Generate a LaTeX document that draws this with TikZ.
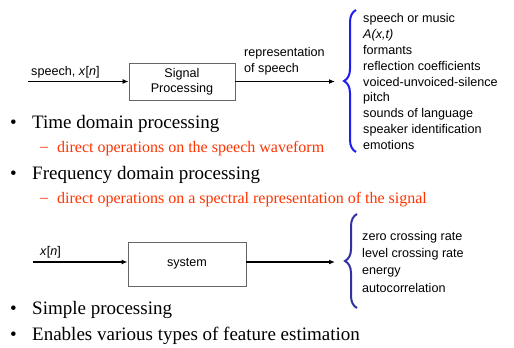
\documentclass[tikz,border=0pt]{standalone}
\usepackage{fontspec}
\setmainfont{Liberation Serif}
\setsansfont{Liberation Sans}
\usetikzlibrary{arrows.meta,decorations.pathreplacing}

\definecolor{subred}{RGB}{255,51,0}
\definecolor{braceblue}{RGB}{30,30,240}
\definecolor{bracenavy}{RGB}{50,50,160}

\tikzset{
  procbox/.style={draw=black!60, line width=0.8pt, minimum width=#1, align=center,
    font=\sffamily\fontsize{12.6}{15.5}\selectfont},
  lbl/.style={inner sep=0pt, align=left, font=\sffamily\fontsize{12.6}{15.8}\selectfont},
  feat/.style={lbl, anchor=north west},
  sig/.style={line width=1.3pt, -{Latex[length=6pt,width=5pt]}},
  brc/.style={decorate, decoration={brace, amplitude=12pt, aspect=0.5}, line width=2pt},
  bul/.style={inner sep=0pt, anchor=west, font=\fontsize{19}{22}\selectfont},
  sub/.style={inner sep=0pt, anchor=west, text=subred, font=\fontsize{16}{19}\selectfont}
}

\begin{document}
\begin{tikzpicture}[x=1pt,y=-1pt]
\useasboundingbox (0,0) rectangle (514,348);
% first chain
\coordinate (in1) at (28,81.5); \coordinate (out1) at (335,81.5);
\node[procbox=106pt, minimum height=37pt] (sp) at (182,81.5) {Signal\\Processing};
\draw[sig] (in1) -- (sp.west);
\draw[sig] (sp.east) -- (out1);
\node[lbl, anchor=south west] at (31,78) {speech, \textit{x}[\textit{n}]};
\node[lbl, anchor=south west] (rep) at (244,75) {representation\\of speech};
\draw[brc, braceblue] (356,152) -- (356,10);
\node[feat] (feats1) at (363,13.5) {speech or music\\\textit{A(x,t)}\\formants\\reflection coefficients\\voiced-unvoiced-silence\\pitch\\sounds of language\\speaker identification\\emotions};
% bullets
\node[bul] at (10,124) {\textbullet}; \node[bul] (td) at (32,124) {Time domain processing};
\node[sub] at (40,149) {--}; \node[sub] (tds) at (57,149) {direct operations on the speech waveform};
\node[bul] at (10,175) {\textbullet}; \node[bul] (fd) at (32,175) {Frequency domain processing};
\node[sub] at (40,200) {--}; \node[sub] (fds) at (57,200) {direct operations on a spectral representation of the signal};
% second chain
\coordinate (in2) at (33,262); \coordinate (out2) at (335,262);
\node[procbox=118pt, minimum height=44pt] (sys) at (187,264) {system};
\draw[sig] (in2) -- (in2 -| sys.west);
\draw[sig] (sys.east |- out2) -- (out2);
\node[lbl, anchor=south west] at (40,258) {\textit{x}[\textit{n}]};
\draw[brc, bracenavy] (357,308) -- (357,214);
\node[feat, font=\sffamily\fontsize{12.6}{17.3}\selectfont] (feats2) at (362,231) {zero crossing rate\\level crossing rate\\energy\\autocorrelation};
\node[bul] at (10,310) {\textbullet}; \node[bul] (sim) at (32,310) {Simple processing};
\node[bul] at (10,336) {\textbullet}; \node[bul] (fe) at (32,336) {Enables various types of feature estimation};
\end{tikzpicture}
\end{document}
